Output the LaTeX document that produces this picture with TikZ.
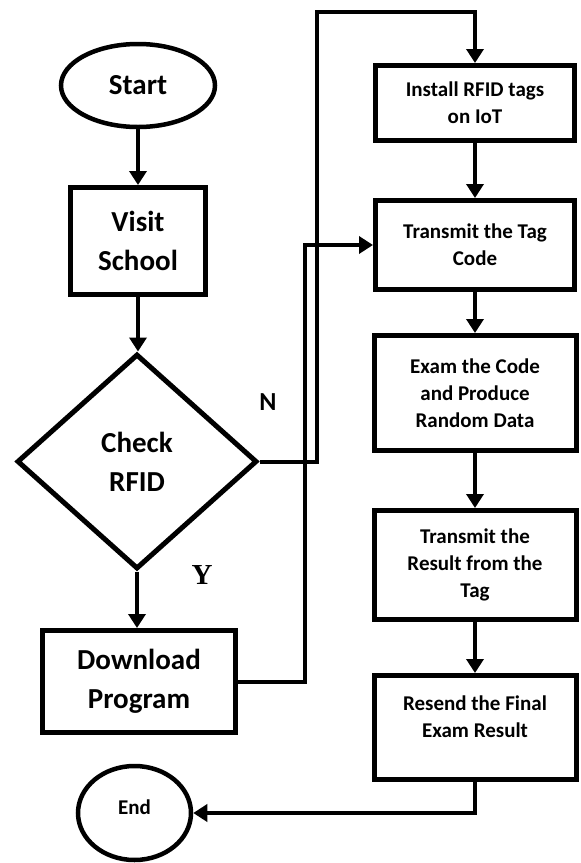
\documentclass[tikz,border=0pt]{standalone}
\usepackage{fontspec}
\setmainfont{Carlito}
\newfontfamily\labelserif{Liberation Serif}
\usetikzlibrary{shapes.geometric,arrows.meta}
\begin{document}
\begin{tikzpicture}[x=1pt,y=-1pt,
  shapeline/.style={draw=black, line width=5pt, fill=white, inner sep=0pt, align=center},
  termnode/.style={shapeline, ellipse, line width=4.5pt},
  stepbox/.style={shapeline, rectangle},
  decide/.style={shapeline, diamond},
  bigtext/.style={font=\fontsize{29}{39}\selectfont\bfseries},
  smalltext/.style={align=center, font=\fontsize{21}{27}\selectfont\bfseries},
  flow/.style={line width=4pt, -{Triangle[width=17pt,length=14pt]}},
]
\useasboundingbox (0,0) rectangle (581,863);

% left column
\node[termnode, bigtext, minimum width=154pt, minimum height=83pt] (start) at (138,85.5) {Start};
\node[stepbox, bigtext, minimum width=135pt, minimum height=107pt] (visit) at (138,241) {Visit\\School};
\node[decide, bigtext, minimum width=240pt, minimum height=215pt] (check) at (137,461.5) {Check\\RFID};
\node[stepbox, bigtext, minimum width=193pt, minimum height=102pt] (download) at (139,681.5) {Download\\Program};
\node[termnode, minimum width=113pt, minimum height=94pt] (end) at (134.5,813) {};
\node[smalltext] (endtxt) at (134.5,807) {End};

% right column
\node[stepbox, smalltext, minimum width=199pt, minimum height=75pt] (install) at (475,103) {Install RFID tags\\on IoT};
\node[stepbox, smalltext, minimum width=199pt, minimum height=89pt] (transmit) at (475,245) {Transmit the Tag\\Code};
\node[stepbox, smalltext, minimum width=202pt, minimum height=115pt] (exam) at (475,393) {Exam the Code\\and Produce\\Random Data};
\node[stepbox, smalltext, minimum width=202pt, minimum height=109pt] (result) at (475,565) {Transmit the\\Result from the\\Tag};
\node[stepbox, minimum width=202pt, minimum height=104pt] (resend) at (475,727.5) {};
\node[smalltext] (resendtxt) at (475,716.5) {Resend the Final\\Exam Result};

% branch labels
\node[font=\fontsize{26}{26}\selectfont\bfseries] (nlabel) at (268,402) {N};
\node[font=\labelserif\fontsize{29}{29}\selectfont\bfseries] (ylabel) at (202,575) {Y};

% routing points
\coordinate (ncol) at (317,12);
\coordinate (dcol) at (305,0);

% connectors
\draw[flow] (start.south) -- (start.south |- visit.north);
\draw[flow] (visit.south) -- (visit.south |- check.north);
\draw[flow] (check.south) -- (check.south |- download.north);
\draw[flow] (check.east) -| (ncol) -| (install.north);
\draw[flow] (download.east) -| (dcol |- transmit.west) -- (transmit.west);
\draw[flow] (install.south) -- (transmit.north);
\draw[flow] (transmit.south) -- (exam.north);
\draw[flow] (exam.south) -- (result.north);
\draw[flow] (result.south) -- (resend.north);
\draw[flow] (resend.south) |- (end.east);
\end{tikzpicture}
\end{document}
